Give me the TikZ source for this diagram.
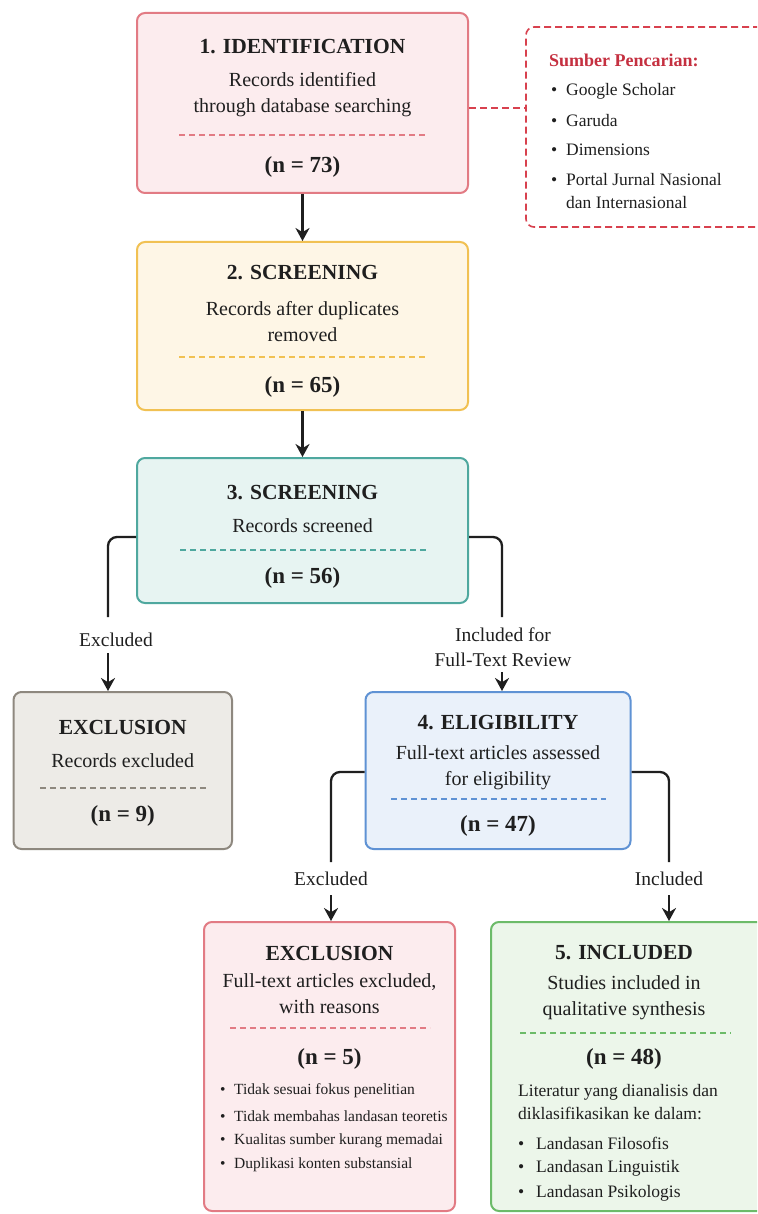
\documentclass[tikz,border=0pt]{standalone}
\usepackage{fontspec}
\setmainfont{Liberation Serif}
\usetikzlibrary{arrows.meta}
\definecolor{ink}{HTML}{1F1F1F}
\definecolor{pinkF}{HTML}{FCECEE}
\definecolor{pinkD}{HTML}{E27B84}
\definecolor{srcD}{HTML}{D8414E}
\definecolor{srcT}{HTML}{C53040}
\definecolor{yelF}{HTML}{FEF6E6}
\definecolor{yelD}{HTML}{F1C153}
\definecolor{tealF}{HTML}{E7F4F2}
\definecolor{tealD}{HTML}{4FA89F}
\definecolor{grayF}{HTML}{EDEBE7}
\definecolor{grayD}{HTML}{8E887F}
\definecolor{blueF}{HTML}{EAF1FA}
\definecolor{blueD}{HTML}{5F92D4}
\definecolor{grnF}{HTML}{ECF6EA}
\definecolor{grnD}{HTML}{6CBB69}
\tikzset{
  box/.style={draw, line width=2pt, rounded corners=8pt, inner sep=0pt},
  ttl/.style={font=\fontsize{21.5}{25}\selectfont\bfseries, text=ink, inner sep=0pt},
  body/.style={font=\fontsize{20}{26}\selectfont, text=ink, align=center, inner sep=0pt},
  num/.style={font=\fontsize{23}{27}\selectfont\bfseries, text=ink, inner sep=0pt},
  lbl/.style={font=\fontsize{19.5}{25}\selectfont, text=ink, align=center, inner sep=0pt},
  smallitem/.style={font=\fontsize{15.5}{20}\selectfont, text=ink, anchor=west, inner sep=0pt},
  miditem/.style={font=\fontsize{17.5}{22}\selectfont, text=ink, anchor=west, inner sep=0pt},
  conn/.style={draw=ink, line width=2.3pt, rounded corners=9pt},
  arr/.style={draw=ink, line width=2.3pt, -{Stealth[length=13pt,width=14pt]}},
  divline/.style={dash pattern=on 6pt off 4pt, line width=1.4pt},
}
\begin{document}
\begin{tikzpicture}[x=1pt,y=-1pt]
\useasboundingbox[fill=white] (0,0) rectangle (757,1214);
\clip (0,0) rectangle (757,1214);

% ---------- boxes ----------
\node[box, fill=pinkF, draw=pinkD, minimum width=331pt, minimum height=180pt] (b1) at (302.5,103) {};
\node[box, fill=white, draw=srcD, line width=1.6pt, dash pattern=on 7pt off 4pt, minimum width=264pt, minimum height=200pt] (src) at (658,127) {};
\node[box, fill=yelF, draw=yelD, minimum width=331pt, minimum height=168pt] (b2) at (302.5,326) {};
\node[box, fill=tealF, draw=tealD, minimum width=331pt, minimum height=145pt] (b3) at (302.5,530.5) {};
\node[box, fill=grayF, draw=grayD, minimum width=218.5pt, minimum height=157pt] (gx) at (122.75,770.5) {};
\node[box, fill=blueF, draw=blueD, minimum width=265pt, minimum height=157pt] (b4) at (498,770.5) {};
\node[box, fill=pinkF, draw=pinkD, minimum width=251pt, minimum height=289pt] (ex2) at (329.5,1066.5) {};
\node[box, fill=grnF, draw=grnD, minimum width=299pt, minimum height=289pt] (inc) at (640.5,1066.5) {};

% ---------- box 1 ----------
\node[ttl] (t1) at (302.5,47) {1. IDENTIFICATION};
\node[body] (d1) at (302.5,95) {Records identified\\through database searching};
\draw[divline, draw=pinkD] (179,135) -- (428,135);
\node[num] (n1) at (302.5,167) {(n = 73)};

% ---------- sources ----------
\node[anchor=west, inner sep=0pt, font=\fontsize{18}{22}\selectfont\bfseries, text=srcT] (st) at (549,60) {Sumber Pencarian:};
\node[miditem] (s1) at (551,91) {\makebox[15pt][l]{\textbullet}Google Scholar};
\node[miditem] (s2) at (551,121) {\makebox[15pt][l]{\textbullet}Garuda};
\node[miditem] (s3) at (551,150) {\makebox[15pt][l]{\textbullet}Dimensions};
\node[miditem] (s4) at (551,180) {\makebox[15pt][l]{\textbullet}Portal Jurnal Nasional};
\node[miditem] (s5) at (566,203) {dan Internasional};

% ---------- box 2 ----------
\node[ttl] (t2) at (302.5,273) {2. SCREENING};
\node[body] (d2) at (302.5,322) {Records after duplicates\\removed};
\draw[divline, draw=yelD] (179,357) -- (427,357);
\node[num] (n2) at (302.5,387) {(n = 65)};

% ---------- box 3 ----------
\node[ttl] (t3) at (302.5,493) {3. SCREENING};
\node[body] (d3) at (302.5,526) {Records screened};
\draw[divline, draw=tealD] (180,550) -- (427,550);
\node[num] (n3) at (302.5,578) {(n = 56)};

% ---------- gray exclusion ----------
\node[ttl] (tg) at (122.75,727) {EXCLUSION};
\node[body] (dg) at (122.75,761) {Records excluded};
\draw[divline, draw=grayD] (40,788) -- (208,788);
\node[num] (ng) at (122.75,816) {(n = 9)};

% ---------- box 4 ----------
\node[ttl] (t4) at (498,723) {4. ELIGIBILITY};
\node[body] (d4) at (498,768) {Full-text articles assessed\\for eligibility};
\draw[divline, draw=blueD] (391,799) -- (606,799);
\node[num] (n4) at (498,826) {(n = 47)};

% ---------- exclusion 2 ----------
\node[ttl] (te) at (329.5,953) {EXCLUSION};
\node[body] (de) at (329.5,994) {Full-text articles excluded,\\with reasons};
\draw[divline, draw=pinkD] (230,1028) -- (430,1028);
\node[num] (ne) at (329.5,1059) {(n = 5)};
\node[smallitem] (e1) at (220,1091) {\makebox[14pt][l]{\textbullet}Tidak sesuai fokus penelitian};
\node[smallitem] (e2) at (220,1116) {\makebox[14pt][l]{\textbullet}Tidak membahas landasan teoretis};
\node[smallitem] (e3) at (220,1141) {\makebox[14pt][l]{\textbullet}Kualitas sumber kurang memadai};
\node[smallitem] (e4) at (220,1165) {\makebox[14pt][l]{\textbullet}Duplikasi konten substansial};

% ---------- included ----------
\node[ttl] (ti) at (624,953) {5. INCLUDED};
\node[body] (di) at (624,998) {Studies included in\\qualitative synthesis};
\draw[divline, draw=grnD] (520,1033) -- (731,1033);
\node[num] (ni) at (624,1059) {(n = 48)};
\node[miditem, align=left, font=\fontsize{17.5}{22.5}\selectfont] (lit) at (518,1102) {Literatur yang dianalisis dan\\diklasifikasikan ke dalam:};
\node[miditem] (i1) at (518,1143) {\makebox[18pt][l]{\textbullet}Landasan Filosofis};
\node[miditem] (i2) at (518,1168) {\makebox[18pt][l]{\textbullet}Landasan Linguistik};
\node[miditem] (i3) at (518,1193) {\makebox[18pt][l]{\textbullet}Landasan Psikologis};

% ---------- connectors ----------
\draw[dash pattern=on 7pt off 4pt, line width=1.6pt, draw=srcD] ([yshift=-5pt]b1.east) -- ([yshift=-5pt]b1.east -| src.west);
\draw[arr] (b1.south) -- (b2.north);
\draw[arr] (b2.south) -- (b3.north);

\coordinate (e3l) at (108,617);
\coordinate (e3r) at (502,617);
\draw[conn] ([yshift=-6.5pt]b3.west) -| (e3l);
\draw[conn] ([yshift=-6.5pt]b3.east) -| (e3r);
\node[lbl] (la) at (116,640) {Excluded};
\node[lbl] (lb) at (503,647) {Included for\\Full-Text Review};
\coordinate (a3l) at (108,653);
\coordinate (a3r) at (502,672);
\draw[arr] (a3l) -- (a3l |- gx.north);
\draw[arr] (a3r) -- (a3r |- b4.north);

\coordinate (e4l) at (331,862);
\coordinate (e4r) at (669,862);
\draw[conn] ([yshift=-1.5pt]b4.west) -| (e4l);
\draw[conn] ([yshift=-1.5pt]b4.east) -| (e4r);
\node[lbl] (lc) at (331,879) {Excluded};
\node[lbl] (ld) at (669,879) {Included};
\coordinate (a4l) at (331,895);
\coordinate (a4r) at (669,895);
\draw[arr] (a4l) -- (a4l |- ex2.north);
\draw[arr] (a4r) -- (a4r |- inc.north);
\end{tikzpicture}
\end{document}
